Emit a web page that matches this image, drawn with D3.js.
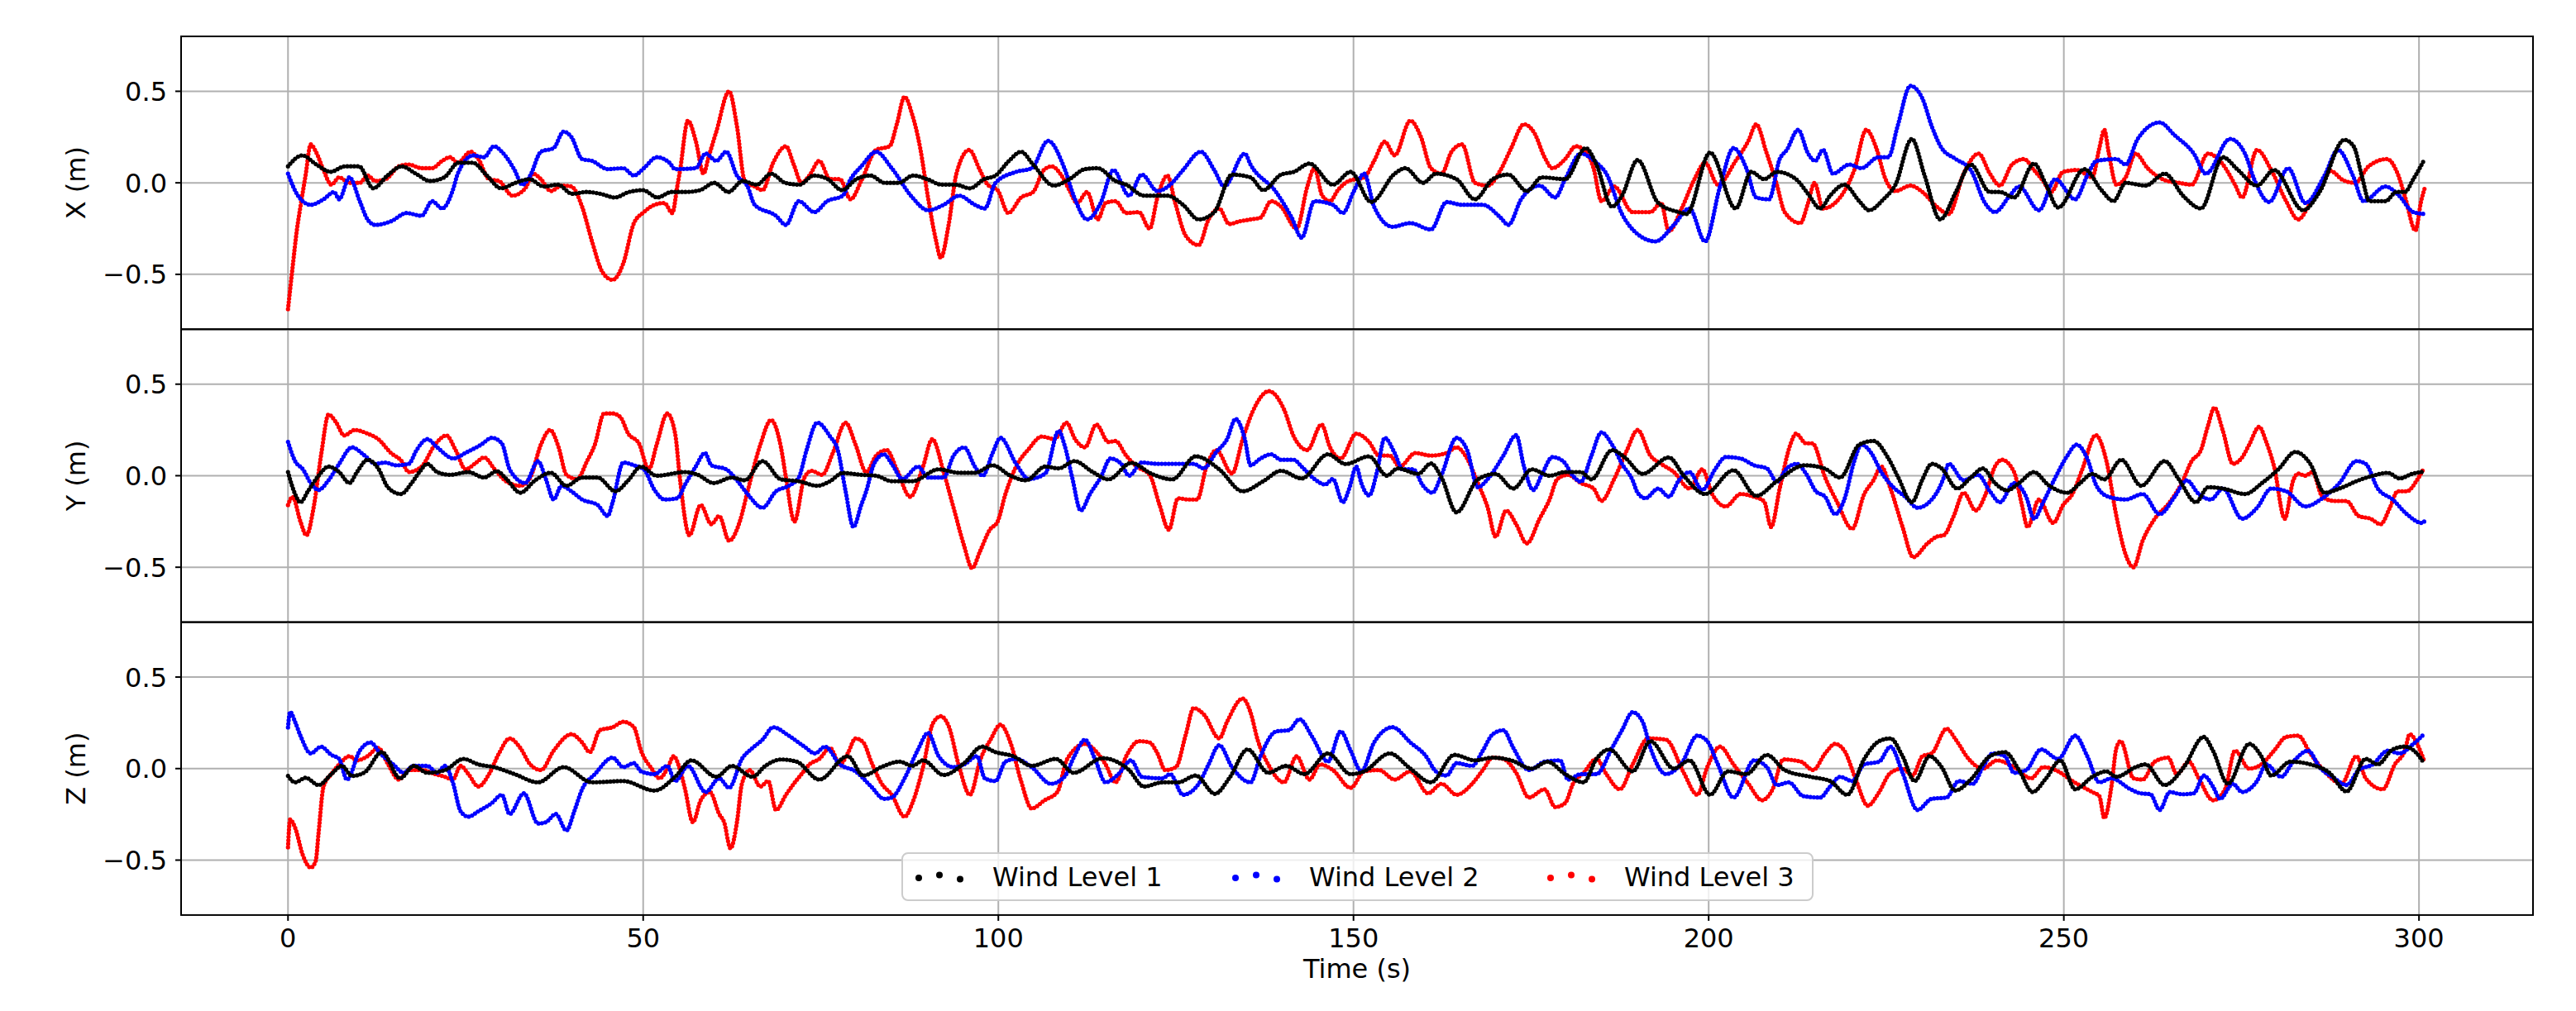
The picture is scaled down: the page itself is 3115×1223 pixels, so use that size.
<!DOCTYPE html>
<html><head><meta charset="utf-8">
<script src="https://cdn.jsdelivr.net/npm/d3@7"></script>
<style>body{margin:0;background:#fff} text{font-family:"DejaVu Sans",sans-serif;fill:#000}</style>
</head><body>
<svg id="chart" width="3115" height="1223"></svg>
<script>
const timeTicks=[0,50,100,150,200,250,300];
const valueTicks=[-0.5,0,0.5];
const panelLabels=["X (m)","Y (m)","Z (m)"];
const seriesNames=["Wind Level 1","Wind Level 2","Wind Level 3"];
const seriesColors=["#000000","#0000ff","#ff0000"];

// [time (s), displacement (m)]
const xL1=[[0,0.09],[2,0.15],[4,0.1],[6,0.06],[8,0.09],[10,0.09],[12,-0.03],[14,0.04],[16,0.09],[18,0.05],[20,0.01],[22,0.03],[24,0.11],[26,0.11],[28,0.04],[30,-0.03],[32,0.0],[34,0.02],[36,-0.02],[38,-0.01],[40,-0.06],[42,-0.05],[44,-0.06],[46,-0.08],[48,-0.05],[50,-0.04],[52,-0.08],[54,-0.05],[56,-0.05],[58,-0.04],[60,0.0],[62,-0.05],[64,0.01],[66,-0.01],[68,0.05],[70,0.0],[72,-0.01],[74,0.04],[76,0.02],[78,-0.04],[80,0.02],[82,0.04],[84,0.0],[86,0.0],[88,0.04],[90,0.02],[92,-0.01],[94,-0.01],[96,-0.03],[98,0.02],[99.6,0.04],[101.5,0.12],[103.2,0.17],[104.9,0.1],[107.8,-0.015],[110,0.02],[112.2,0.075],[114,0.08],[116.5,0.01],[118,-0.01],[120.5,-0.07],[123.8,-0.07],[126,-0.12],[128.2,-0.2],[130.4,-0.16],[132.9,0.045],[135.5,0.03],[137.3,-0.04],[139.8,0.045],[141.6,0.06],[143.8,0.105],[147.1,-0.01],[149.6,0.06],[152.5,-0.105],[155.8,0.05],[157.3,0.08],[159.8,0.0],[161.6,0.05],[164.5,0.02],[167.1,-0.09],[169.6,0.02],[171.8,0.045],[174.4,-0.045],[176.5,0.03],[179.8,0.02],[182.7,0.19],[184.2,0.1],[186.4,-0.13],[187.8,-0.07],[190,0.125],[192.9,-0.11],[195.8,-0.16],[196.9,-0.17],[200.2,0.165],[203.8,-0.14],[206,0.06],[207.8,0.02],[209.6,0.06],[212.3,0.02],[214,-0.06],[215.7,-0.14],[217.1,-0.07],[219.1,-0.01],[221.2,-0.1],[222.6,-0.15],[224.6,-0.09],[226.3,-0.01],[228.6,0.24],[230.4,0.04],[232.6,-0.2],[234.8,-0.05],[236.9,0.1],[239.6,-0.05],[241,-0.05],[243,-0.08],[245.8,0.105],[247.5,-0.01],[249.2,-0.135],[252.9,0.075],[255.3,-0.04],[257,-0.1],[258.7,0.0],[261.5,-0.015],[264.2,0.05],[266.9,-0.075],[269.3,-0.14],[272.4,0.14],[274.4,0.075],[277.2,-0.015],[279.6,0.07],[283.7,-0.15],[286,-0.05],[289.5,0.235],[290.8,0.2],[292,0.03],[293,-0.1],[295.3,-0.1],[296.8,-0.05],[298,-0.05],[299.2,0.02],[300.8,0.13]];
const xL2=[[0,0.05],[1.4,-0.07],[3.2,-0.12],[5.0,-0.09],[6.5,-0.05],[7.2,-0.09],[8.65,0.03],[10.1,-0.1],[11.2,-0.2],[12.3,-0.23],[14.5,-0.21],[16.7,-0.165],[18.8,-0.18],[20.3,-0.1],[21.7,-0.14],[23.2,-0.04],[23.9,0.05],[26.1,0.15],[27.6,0.14],[29.0,0.2],[30.1,0.17],[31.9,0.07],[33.0,-0.01],[34.1,0.04],[35.6,0.17],[37.4,0.19],[38.8,0.28],[39.9,0.25],[41.4,0.13],[42.8,0.12],[45.0,0.075],[47.2,0.08],[48.7,0.04],[50.1,0.08],[51.9,0.14],[53.7,0.11],[54.5,0.075],[57.4,0.08],[58.8,0.16],[60.3,0.12],[61.7,0.17],[63.2,0.04],[64.7,-0.02],[65.7,-0.12],[68.7,-0.18],[70.1,-0.23],[71.9,-0.1],[74.1,-0.16],[75.9,-0.1],[78.1,-0.07],[79.2,0.02],[80.7,0.09],[82.8,0.17],[85.0,0.08],[87.9,-0.08],[90.1,-0.15],[92.3,-0.12],[94.5,-0.07],[96.7,-0.12],[98.1,-0.14],[99.6,0.0],[102.5,0.06],[104.7,0.08],[107.0,0.23],[109.3,0.08],[110.7,-0.08],[112.5,-0.2],[114.4,-0.11],[116.2,0.07],[118.4,-0.07],[120.2,0.045],[122.4,-0.045],[124.2,-0.01],[126.0,0.07],[128.5,0.17],[130.4,0.07],[131.8,-0.02],[134.7,0.16],[135.5,0.1],[139.1,-0.05],[141.3,-0.19],[142.7,-0.3],[144.5,-0.1],[147.1,-0.12],[148.5,-0.165],[150.0,-0.05],[151.5,0.05],[152.9,-0.13],[155.5,-0.24],[158.0,-0.22],[160.9,-0.255],[163.1,-0.105],[165.3,-0.12],[168.2,-0.12],[170.7,-0.19],[171.8,-0.23],[173.6,-0.09],[176.2,-0.015],[178.4,-0.08],[179.8,0.02],[182.0,0.16],[184.2,0.11],[185.6,0.05],[187.8,-0.17],[190.0,-0.28],[192.5,-0.32],[195.1,-0.23],[197.3,-0.14],[199.5,-0.32],[201.6,-0.02],[203.5,0.19],[205.3,0.08],[206.7,-0.08],[208.5,-0.09],[210.0,0.13],[211.0,0.18],[212.6,0.29],[214.0,0.16],[215.0,0.12],[216.1,0.18],[217.5,0.05],[219.8,0.1],[221.5,0.08],[223.9,0.14],[225.3,0.14],[226.6,0.31],[228.4,0.53],[230.1,0.46],[231.4,0.31],[232.8,0.19],[234.8,0.13],[236.9,0.07],[238.9,-0.11],[240.3,-0.16],[242.4,-0.07],[243.7,-0.02],[246.5,-0.15],[248.8,0.02],[251.6,-0.09],[253.3,0.04],[254.6,0.12],[257.4,0.13],[258.7,0.1],[260.4,0.24],[263.5,0.33],[265.6,0.26],[268.3,0.16],[270.0,0.05],[273.4,0.24],[275.5,0.16],[276.8,0.02],[278.9,-0.105],[281.6,0.08],[284.0,-0.11],[286.7,0.04],[288.6,0.18],[290.7,0.04],[292.2,-0.1],[295.3,-0.02],[297.2,-0.07],[299.2,-0.16],[300.8,-0.17]];
const xL3=[[0,-0.69],[0.65,-0.46],[1.24,-0.26],[1.75,-0.13],[2.47,0.04],[3.2,0.21],[3.93,0.17],[5.0,0.07],[6.1,-0.01],[7.2,0.03],[8.65,0.0],[10.1,0.0],[11.2,0.04],[12.3,0.01],[13.75,0.02],[15.6,0.09],[17.0,0.1],[18.8,0.08],[20.3,0.08],[21.7,0.12],[22.8,0.14],[23.9,0.11],[25.7,0.17],[26.8,0.13],[28.3,0.02],[29.7,0.01],[31.6,-0.07],[33.4,-0.03],[34.5,0.05],[35.6,0.02],[37.0,-0.045],[38.5,-0.015],[39.9,-0.02],[41.4,-0.13],[42.8,-0.32],[44.3,-0.49],[45.7,-0.53],[47.2,-0.44],[48.7,-0.22],[50.1,-0.16],[51.6,-0.12],[53.0,-0.11],[54.1,-0.165],[54.8,-0.02],[55.2,0.07],[56.3,0.34],[57.4,0.23],[58.5,0.05],[59.2,0.14],[60.3,0.28],[62.1,0.5],[63.2,0.31],[64.3,0.01],[65.7,-0.02],[66.8,-0.04],[68.3,0.11],[70.1,0.2],[71.2,0.1],[72.3,0.0],[73.4,0.04],[74.8,0.12],[76.3,0.02],[77.7,0.02],[79.2,-0.09],[80.7,0.01],[82.8,0.18],[84.7,0.2],[85.7,0.32],[86.8,0.47],[87.9,0.37],[89.0,0.19],[90.1,-0.08],[91.2,-0.31],[91.9,-0.41],[93.0,-0.23],[94.1,0.05],[95.9,0.18],[97.4,0.07],[98.5,-0.01],[99.9,-0.04],[101.4,-0.165],[103.2,-0.08],[104.9,-0.05],[106.4,0.07],[107.5,0.09],[108.9,0.04],[110.0,-0.04],[111.1,-0.11],[112.5,-0.05],[114.0,-0.2],[115.1,-0.11],[116.5,-0.1],[118.0,-0.165],[119.8,-0.16],[121.3,-0.25],[122.4,-0.08],[123.8,0.04],[124.9,-0.11],[126.4,-0.29],[128.2,-0.34],[129.6,-0.2],[131.1,-0.14],[132.5,-0.225],[134.0,-0.21],[135.5,-0.2],[136.9,-0.19],[138.4,-0.1],[139.8,-0.13],[142.0,-0.25],[143.5,-0.02],[144.5,0.08],[145.6,-0.07],[146.7,-0.1],[147.8,-0.04],[149.3,0.01],[151.5,0.03],[152.9,0.12],[154.4,0.225],[155.8,0.15],[158.0,0.34],[159.5,0.25],[160.9,0.08],[162.4,0.05],[163.8,0.17],[165.3,0.21],[167.1,0.0],[168.9,-0.015],[170.7,0.07],[172.2,0.19],[174.0,0.32],[175.5,0.27],[176.9,0.14],[178.0,0.08],[179.8,0.13],[181.3,0.2],[182.7,0.17],[183.8,0.08],[184.9,-0.1],[186.7,-0.02],[189.3,-0.16],[191.8,-0.16],[193.3,-0.11],[194.4,-0.265],[196.2,-0.14],[198.0,0.02],[199.5,0.11],[201.3,-0.01],[203.8,0.12],[205.6,0.23],[206.7,0.32],[208.1,0.17],[209.6,-0.01],[210.7,-0.16],[212.9,-0.22],[214.0,-0.11],[214.9,0.0],[216.1,-0.14],[218.5,-0.08],[220.5,0.07],[222.2,0.29],[223.6,0.19],[224.9,0.02],[226.3,-0.045],[228.4,-0.015],[230.1,-0.05],[232.1,-0.13],[233.8,-0.17],[235.9,0.05],[238.0,0.16],[239.6,0.05],[241.0,-0.015],[242.7,0.1],[244.4,0.13],[245.8,0.07],[247.1,0.01],[248.2,-0.05],[249.9,0.06],[251.9,0.07],[254.0,0.03],[255.0,0.19],[255.7,0.29],[256.3,0.17],[257.4,-0.01],[258.7,0.03],[260.1,0.16],[261.8,0.08],[264.2,0.015],[266.2,0.0],[268.0,-0.01],[270.3,0.16],[272.4,0.1],[274.1,-0.01],[275.1,-0.08],[277.2,0.18],[279.2,0.07],[281.3,-0.1],[283.0,-0.2],[284.7,-0.11],[286.7,0.02],[287.5,0.066],[289.3,0.015],[291.0,0.0],[292.9,0.09],[295.5,0.13],[297.0,0.05],[298.1,-0.085],[299.5,-0.26],[300.3,-0.1],[300.8,-0.03]];

const yL1=[[0,0.02],[1.0,-0.1],[1.75,-0.145],[2.8,-0.085],[4.3,0.0],[5.7,0.05],[7.2,0.02],[8.65,-0.04],[9.7,0.02],[11.2,0.087],[12.7,0.04],[14.1,-0.065],[15.9,-0.1],[17.4,-0.04],[18.5,0.02],[19.6,0.065],[21.0,0.02],[22.8,0.005],[25.4,0.02],[27.6,-0.01],[29.4,0.025],[30.8,-0.02],[32.7,-0.093],[34.8,-0.025],[37.0,0.016],[39.2,-0.055],[41.4,-0.01],[43.6,-0.01],[46.1,-0.085],[47.9,-0.025],[49.7,0.05],[51.9,0.0],[55.9,0.02],[57.7,0.005],[59.9,-0.04],[62.5,-0.01],[64.3,-0.025],[66.8,0.08],[69.4,-0.02],[71.9,-0.03],[74.5,-0.055],[76.3,-0.03],[78.1,0.015],[80.7,0.005],[82.8,0.0],[85.0,-0.03],[87.9,-0.03],[91.6,0.035],[94.5,0.016],[96.7,0.016],[99.2,0.057],[101.7,0.0],[103.9,-0.025],[106.6,0.05],[108.5,0.04],[110.7,0.08],[113.3,0.02],[115.5,-0.02],[118.7,0.07],[121.6,0.01],[124.5,-0.02],[127.8,0.106],[131.1,0.035],[134.4,-0.085],[137.3,-0.03],[139.8,0.027],[142.7,-0.015],[146.4,0.117],[148.9,0.064],[152.2,0.106],[154.7,0.0],[156.2,0.04],[159.1,0.01],[160.9,0.067],[162.4,-0.01],[164.5,-0.2],[167.5,-0.02],[170.0,0.01],[172.5,-0.07],[175.1,0.035],[177.6,0.0],[179.8,0.02],[182.0,0.02],[183.5,-0.02],[186.4,0.14],[188.2,0.1],[190.7,0.01],[194.4,0.1],[196.5,0.0],[199.5,-0.1],[203.5,0.03],[206.7,-0.11],[209.6,-0.03],[213.5,0.057],[216.3,0.04],[218.5,-0.01],[221.2,0.17],[223.2,0.19],[225.3,0.095],[226.7,-0.01],[228.6,-0.145],[230.1,-0.02],[231.4,0.065],[232.8,0.04],[235.0,-0.07],[236.9,-0.01],[238.6,0.04],[240.3,-0.04],[242.0,-0.08],[243.7,-0.04],[245.8,0.02],[247.8,-0.05],[250.5,-0.093],[252.3,-0.04],[254.0,0.01],[255.7,-0.02],[258.1,0.087],[260.9,-0.055],[264.2,0.08],[266.2,-0.02],[268.6,-0.145],[270.3,-0.063],[272.4,-0.07],[275.5,-0.1],[277.9,-0.04],[280.2,0.035],[282.6,0.13],[284.7,0.065],[286.7,-0.093],[288.8,-0.07],[291.5,-0.025],[293.5,0.0],[295.6,0.016],[297.3,-0.015],[299.0,0.01],[300.7,0.022]];
const yL2=[[0,0.185],[1.0,0.08],[2.1,0.035],[3.2,-0.04],[4.3,-0.078],[5.7,-0.025],[7.2,0.065],[9.0,0.155],[10.8,0.11],[12.3,0.065],[13.7,0.072],[15.2,0.057],[17.0,0.065],[18.1,0.14],[19.6,0.2],[21.0,0.155],[23.3,0.094],[25.0,0.125],[27.2,0.17],[28.7,0.207],[30.1,0.177],[31.2,0.035],[33.4,-0.04],[35.2,0.08],[36.3,-0.018],[37.4,-0.13],[38.5,-0.055],[39.9,-0.085],[41.4,-0.13],[43.6,-0.16],[45.0,-0.22],[45.7,-0.145],[47.2,0.072],[48.7,0.057],[50.1,0.035],[51.6,-0.078],[53.0,-0.13],[54.8,-0.123],[55.9,-0.048],[57.4,0.05],[58.7,0.124],[59.6,0.057],[61.7,0.035],[63.2,-0.025],[64.7,-0.1],[66.8,-0.175],[68.7,-0.085],[70.5,-0.055],[71.9,-0.01],[73.0,0.14],[74.5,0.29],[76.3,0.215],[77.4,0.14],[78.5,-0.085],[79.6,-0.28],[80.7,-0.16],[81.4,-0.085],[82.5,0.065],[83.9,0.117],[85.0,0.065],[86.5,-0.018],[88.7,0.05],[90.1,-0.01],[92.3,-0.01],[93.7,0.11],[95.2,0.155],[96.7,0.05],[97.8,0.0],[99.2,0.124],[100.3,0.207],[102.5,0.065],[104.3,-0.018],[106.6,0.012],[108.5,0.245],[109.3,0.17],[110.4,-0.01],[111.6,-0.19],[112.9,-0.1],[114.4,-0.01],[115.8,0.094],[117.3,0.065],[118.4,0.0],[120.2,0.072],[122.4,0.065],[125.3,0.065],[127.5,0.065],[128.9,0.04],[130.7,0.13],[132.2,0.2],[133.4,0.31],[134.7,0.2],[135.5,0.057],[136.9,0.094],[138.4,0.117],[139.8,0.087],[141.6,0.087],[142.7,0.05],[144.5,-0.018],[146.0,-0.048],[147.1,-0.018],[148.5,-0.145],[149.4,-0.07],[150.4,0.05],[151.1,-0.04],[152.2,-0.108],[153.3,0.02],[154.4,0.207],[155.8,0.124],[156.9,0.035],[158.4,0.035],[159.8,-0.055],[161.1,-0.093],[162.4,0.005],[164.5,0.207],[166.0,0.14],[167.5,-0.063],[168.9,-0.018],[171.1,0.11],[172.9,0.222],[174.0,0.05],[175.3,-0.078],[176.5,0.005],[178.0,0.102],[179.5,0.08],[180.9,0.0],[182.0,-0.033],[183.5,0.11],[184.9,0.237],[186.4,0.17],[187.8,0.065],[189.3,-0.025],[190.0,-0.093],[191.1,-0.123],[192.9,-0.07],[194.4,-0.115],[195.8,-0.025],[197.3,0.02],[199.1,-0.078],[200.9,0.035],[202.4,0.102],[204.5,0.094],[206.4,0.057],[208.2,0.04],[209.6,-0.033],[211.0,0.04],[212.4,0.065],[213.7,0.012],[215.1,-0.085],[216.4,-0.115],[217.8,-0.21],[219.1,-0.13],[220.5,0.08],[221.5,0.17],[222.9,0.124],[224.3,0.02],[226.0,-0.063],[227.7,-0.115],[229.4,-0.175],[232.1,-0.093],[233.1,-0.01],[233.8,0.065],[235.9,-0.025],[237.9,0.005],[239.6,-0.085],[241.0,-0.145],[243.0,-0.04],[244.7,-0.115],[245.8,-0.235],[247.1,-0.145],[248.8,-0.01],[250.5,0.11],[251.8,0.17],[253.3,0.094],[254.6,-0.055],[256.3,-0.115],[258.7,-0.13],[261.1,-0.1],[263.5,-0.21],[265.6,-0.115],[267.3,-0.025],[269.0,-0.1],[270.7,-0.13],[272.4,-0.07],[275.1,-0.235],[277.2,-0.175],[279.2,-0.07],[281.3,-0.085],[284.0,-0.168],[286.4,-0.123],[288.8,-0.04],[291.2,0.08],[292.5,0.065],[294.2,-0.07],[296.3,-0.13],[298.3,-0.21],[300.4,-0.258],[300.9,-0.243]];
const yL3=[[0,-0.16],[0.65,-0.115],[1.75,-0.25],[2.6,-0.325],[3.6,-0.175],[4.7,0.124],[5.7,0.334],[6.8,0.29],[7.9,0.22],[9.4,0.25],[11.2,0.23],[12.7,0.2],[14.5,0.124],[16.0,0.08],[17.0,0.02],[18.8,0.05],[20.7,0.17],[22.3,0.22],[23.6,0.14],[25.0,0.035],[26.5,0.072],[27.6,0.1],[29.1,0.035],[30.8,-0.033],[32.7,-0.055],[34.1,-0.01],[35.6,0.17],[36.9,0.25],[38.1,0.155],[39.2,0.005],[40.7,-0.018],[42.1,0.08],[43.2,0.17],[44.5,0.34],[45.7,0.34],[46.8,0.32],[47.9,0.23],[49.4,0.177],[50.8,0.035],[51.9,0.17],[53.4,0.34],[54.5,0.23],[55.2,-0.025],[56.5,-0.325],[58.1,-0.16],[59.6,-0.265],[60.7,-0.22],[62.1,-0.355],[63.6,-0.25],[64.7,-0.085],[66.5,0.17],[68.0,0.304],[69.4,0.155],[70.1,-0.01],[71.3,-0.25],[72.7,-0.01],[73.7,0.027],[75.2,0.005],[76.7,0.124],[78.5,0.29],[79.9,0.17],[81.4,0.02],[82.8,0.11],[84.3,0.14],[85.7,0.035],[87.6,-0.115],[89.4,0.05],[90.7,0.2],[92.3,0.02],[93.7,-0.175],[95.2,-0.385],[96.3,-0.505],[97.4,-0.415],[98.8,-0.295],[99.9,-0.25],[101.0,-0.1],[102.5,0.05],[104.3,0.147],[106.1,0.214],[107.9,0.2],[109.6,0.29],[110.8,0.2],[112.2,0.155],[113.8,0.28],[115.5,0.184],[116.5,0.19],[118.0,0.11],[119.5,0.05],[121.3,0.005],[122.7,-0.16],[124.0,-0.295],[125.3,-0.123],[126.7,-0.13],[128.0,-0.13],[129.3,0.05],[130.7,0.14],[132.9,0.012],[134.4,0.2],[135.8,0.35],[138.1,0.462],[140.2,0.364],[141.6,0.214],[143.5,0.14],[145.5,0.28],[146.7,0.155],[148.2,0.094],[150.4,0.23],[152.2,0.184],[153.6,0.11],[155.1,0.11],[156.5,0.05],[158.7,0.124],[160.9,0.11],[163.1,0.124],[164.5,0.155],[166.0,0.094],[167.5,-0.04],[168.9,-0.175],[170.0,-0.333],[171.5,-0.19],[172.9,-0.265],[174.4,-0.37],[176.2,-0.235],[177.6,-0.13],[178.7,-0.018],[180.2,0.005],[182.0,-0.04],[183.8,-0.07],[184.9,-0.138],[186.7,-0.018],[188.5,0.14],[190.0,0.25],[191.8,0.11],[193.3,0.065],[195.1,0.02],[197.3,-0.07],[199.1,0.035],[200.5,-0.1],[202.4,-0.168],[204.5,-0.1],[206.4,-0.115],[207.8,-0.14],[208.8,-0.28],[210.0,-0.07],[211.5,0.17],[212.3,0.23],[213.7,0.177],[214.6,0.177],[216.4,-0.01],[218.1,-0.145],[220.2,-0.29],[221.9,-0.1],[223.2,-0.025],[224.3,0.05],[225.6,-0.07],[227.3,-0.28],[228.8,-0.445],[230.8,-0.37],[232.1,-0.333],[233.1,-0.325],[234.5,-0.22],[235.9,-0.093],[237.6,-0.19],[239.0,-0.1],[240.3,0.05],[241.3,0.087],[243.0,0.02],[244.1,-0.16],[244.9,-0.28],[246.5,-0.13],[248.5,-0.258],[249.9,-0.16],[251.2,-0.1],[252.6,0.035],[254.5,0.222],[256.0,0.08],[257.4,-0.22],[258.7,-0.43],[259.8,-0.5],[261.1,-0.355],[262.8,-0.235],[264.9,-0.145],[266.6,-0.04],[268.0,0.08],[269.3,0.14],[270.3,0.274],[271.2,0.372],[272.4,0.244],[273.8,0.065],[275.1,0.1],[276.1,0.17],[277.5,0.267],[278.5,0.184],[279.6,0.05],[281.1,-0.235],[282.3,-0.025],[283.0,0.012],[284.0,0.0],[285.0,0.02],[286.4,-0.115],[288.1,-0.138],[289.8,-0.138],[291.5,-0.22],[293.2,-0.235],[294.6,-0.265],[295.9,-0.175],[297.0,-0.085],[298.3,-0.085],[299.7,-0.025],[300.7,0.042]];

const zL1=[[0,-0.04],[1.0,-0.075],[2.5,-0.05],[4.3,-0.09],[6.1,-0.03],[7.6,0.015],[9.0,-0.04],[10.8,-0.02],[13.2,0.09],[15.8,-0.053],[17.7,0.015],[19.6,-0.023],[22.1,-0.008],[24.7,0.053],[26.8,0.023],[29.0,0.008],[31.9,-0.03],[35.2,-0.075],[38.8,0.008],[42.8,-0.075],[47.2,-0.068],[51.6,-0.12],[54.5,-0.045],[56.8,0.045],[60.3,-0.045],[62.5,0.015],[65.4,-0.045],[67.2,0.015],[69.4,0.05],[71.6,0.038],[74.8,-0.06],[78.8,0.068],[81.0,-0.038],[83.6,0.01],[86.1,0.038],[87.9,0.015],[89.4,0.045],[92.3,-0.035],[95.2,0.03],[97.7,0.12],[99.6,0.09],[102.1,0.068],[104.7,0.015],[108.1,0.053],[110.6,-0.023],[114.7,0.057],[118.4,-0.008],[120.5,-0.098],[123.1,-0.075],[125.3,-0.075],[127.8,-0.038],[130.5,-0.138],[132.5,-0.053],[135.1,0.105],[138.0,-0.023],[140.5,0.015],[143.1,-0.03],[146.4,0.083],[149.6,-0.03],[151.5,-0.015],[155.1,0.083],[158.0,0.0],[160.9,-0.075],[164.2,0.075],[167.1,0.045],[169.6,0.06],[172.2,0.045],[175.1,0.0],[177.3,0.038],[179.8,-0.03],[182.4,-0.075],[184.2,0.053],[186.0,0.105],[189.3,-0.015],[191.8,0.15],[195.1,0.0],[197.3,0.045],[200.2,-0.143],[202.7,-0.015],[205.3,-0.03],[208.2,0.075],[210.7,-0.008],[214.4,-0.045],[217.1,-0.068],[219.5,-0.143],[221.9,0.053],[224.0,0.15],[225.6,0.165],[227.3,0.068],[229.0,-0.068],[231.1,0.068],[232.8,0.008],[234.7,-0.12],[236.9,-0.06],[239.6,0.068],[241.7,0.09],[243.7,-0.008],[245.6,-0.128],[247.5,-0.053],[249.5,0.045],[251.6,-0.113],[254.0,-0.045],[256.0,-0.015],[257.4,-0.045],[260.1,0.008],[261.5,0.023],[264.2,-0.09],[266.9,0.008],[269.7,0.173],[271.0,0.098],[273.1,-0.083],[276.1,0.135],[277.8,0.068],[279.2,-0.038],[281.9,0.038],[284.7,0.023],[287.4,-0.023],[289.8,-0.125],[292.5,0.053],[294.2,0.023],[296.3,0.105],[298.0,0.12],[299.7,0.083],[300.7,0.03]];
const zL2=[[0,0.225],[0.3,0.31],[1.0,0.255],[1.75,0.18],[3.2,0.083],[4.65,0.12],[6.1,0.075],[7.2,0.053],[8.3,-0.06],[10.1,0.098],[11.6,0.143],[13.0,0.083],[14.8,0.023],[16.3,-0.023],[17.7,0.015],[19.6,0.015],[21.0,-0.023],[22.1,0.015],[23.2,-0.075],[24.3,-0.233],[25.4,-0.263],[26.8,-0.233],[28.7,-0.188],[30.1,-0.143],[31.2,-0.248],[33.2,-0.135],[35.2,-0.3],[36.3,-0.293],[37.7,-0.248],[39.2,-0.338],[40.3,-0.233],[41.4,-0.113],[43.2,-0.03],[45.7,0.06],[47.2,0.008],[48.7,0.03],[49.7,-0.015],[51.6,-0.03],[53.4,0.015],[54.5,-0.068],[56.3,0.015],[58.8,-0.128],[60.7,-0.053],[62.1,-0.105],[63.9,0.053],[65.4,0.113],[66.8,0.158],[68.3,0.226],[70.5,0.18],[72.7,0.12],[74.2,0.083],[75.6,0.12],[77.7,0.023],[79.9,-0.015],[82.1,-0.098],[83.9,-0.165],[85.0,-0.158],[86.8,-0.053],[88.7,0.105],[90.1,0.195],[91.6,0.068],[93.7,0.008],[95.2,0.023],[97.0,0.068],[98.1,-0.053],[99.6,-0.068],[101.0,0.038],[102.5,0.053],[104.7,0.008],[107.4,-0.083],[109.3,-0.045],[110.7,0.068],[112.2,0.158],[113.6,0.053],[115.1,-0.075],[116.9,-0.03],[118.7,0.045],[120.2,-0.045],[123.1,-0.053],[124.2,-0.03],[126.0,-0.143],[128.2,-0.083],[129.6,0.023],[131.1,0.128],[132.9,0.008],[135.5,-0.075],[136.9,0.068],[139.1,0.203],[140.9,0.21],[142.4,0.27],[144.2,0.173],[146.4,0.038],[148.2,0.203],[149.6,0.098],[151.1,-0.015],[152.9,0.143],[155.5,0.226],[158.0,0.143],[160.2,0.068],[161.6,-0.015],[163.1,-0.038],[164.5,0.03],[166.7,0.015],[168.2,0.098],[169.6,0.188],[171.1,0.21],[172.5,0.113],[174.7,-0.008],[176.9,0.038],[179.1,0.045],[180.2,-0.06],[182.0,-0.03],[184.2,-0.03],[186.4,0.113],[187.8,0.21],[189.3,0.308],[190.7,0.256],[191.8,0.113],[194.0,-0.03],[196.2,0.03],[198.4,0.18],[199.8,0.15],[201.3,0.023],[203.5,-0.158],[206.4,0.045],[208.2,0.008],[209.6,-0.09],[211.3,-0.075],[213.3,-0.15],[215.7,-0.158],[217.1,-0.098],[218.5,-0.045],[220.2,-0.068],[221.9,0.023],[224.0,0.038],[225.6,0.12],[227.3,-0.023],[229.4,-0.226],[231.4,-0.165],[233.5,-0.158],[235.2,-0.068],[237.2,-0.083],[238.6,0.008],[240.0,0.083],[241.7,0.068],[243.0,-0.023],[244.7,-0.008],[246.8,0.105],[249.2,0.053],[251.6,0.18],[253.3,0.068],[255.0,-0.075],[256.7,-0.053],[259.4,-0.113],[260.8,-0.135],[262.2,-0.14],[263.5,-0.226],[264.9,-0.128],[266.6,-0.14],[268.3,-0.135],[269.7,-0.038],[271.0,-0.098],[272.0,-0.165],[273.8,-0.083],[275.1,-0.128],[277.2,-0.068],[278.5,0.023],[280.6,-0.045],[282.3,0.038],[284.4,0.098],[286.0,0.008],[288.1,-0.053],[289.8,-0.09],[291.5,-0.008],[293.5,0.023],[295.6,0.098],[297.3,0.083],[299.0,0.128],[300.7,0.188]];
const zL3=[[0,-0.43],[0.3,-0.278],[1.0,-0.323],[2.1,-0.474],[3.2,-0.541],[3.9,-0.504],[4.3,-0.353],[5.0,-0.098],[6.1,-0.03],[7.2,0.023],[8.65,0.068],[9.7,0.045],[11.2,0.068],[12.7,0.113],[14.1,0.023],[15.6,-0.06],[17.0,-0.008],[18.8,-0.008],[20.7,-0.03],[22.1,-0.045],[23.2,-0.06],[24.3,0.015],[25.4,-0.03],[26.8,-0.098],[28.3,-0.03],[29.7,0.083],[31.2,0.165],[32.7,0.113],[34.1,0.023],[35.6,-0.008],[37.4,0.098],[39.9,0.188],[41.4,0.143],[42.5,0.09],[43.9,0.21],[45.7,0.226],[47.2,0.256],[48.7,0.226],[49.7,0.098],[51.2,0.0],[52.3,-0.053],[53.4,0.0],[54.3,0.068],[55.2,-0.008],[55.9,-0.113],[57.0,-0.293],[58.1,-0.173],[59.4,-0.128],[60.7,-0.248],[61.4,-0.293],[62.3,-0.436],[63.2,-0.293],[63.9,-0.083],[65.0,-0.008],[66.5,-0.098],[67.6,-0.068],[68.7,-0.226],[70.1,-0.143],[71.2,-0.083],[72.3,-0.03],[73.4,0.023],[74.8,0.053],[76.3,0.113],[77.7,0.023],[78.8,0.083],[79.9,0.165],[81.0,0.143],[82.1,0.038],[83.6,-0.083],[85.0,-0.143],[86.8,-0.263],[87.9,-0.188],[89.4,0.008],[90.8,0.248],[91.9,0.286],[93.0,0.233],[94.5,0.008],[96.0,-0.143],[97.5,0.053],[98.9,0.158],[100.3,0.24],[101.7,0.143],[103.2,-0.068],[104.7,-0.218],[106.5,-0.173],[108.3,-0.128],[109.7,0.053],[112.2,0.135],[114.0,0.083],[115.1,0.023],[116.5,-0.075],[118.0,0.068],[119.8,0.15],[121.3,0.143],[122.4,0.083],[123.5,-0.008],[125.0,0.008],[126.4,0.188],[127.5,0.331],[129.0,0.293],[131.1,0.165],[132.2,0.256],[134.4,0.383],[135.5,0.308],[136.5,0.158],[138.0,0.023],[140.2,-0.075],[142.0,0.068],[143.8,-0.06],[145.3,0.023],[147.1,-0.008],[149.6,-0.105],[151.5,-0.015],[153.6,-0.008],[155.8,-0.06],[158.0,-0.015],[160.5,-0.135],[162.4,-0.083],[164.5,-0.143],[166.7,-0.083],[168.2,-0.008],[169.6,0.06],[171.1,0.053],[172.9,-0.023],[174.7,-0.158],[176.9,-0.113],[178.4,-0.21],[179.8,-0.188],[180.9,-0.083],[182.4,-0.023],[184.2,0.053],[185.6,-0.03],[187.5,-0.113],[189.3,0.023],[191.5,0.165],[194.0,0.158],[196.5,-0.023],[198.4,-0.143],[199.8,0.008],[201.6,0.12],[203.5,0.023],[205.6,-0.083],[207.5,-0.173],[209.0,-0.113],[210.5,0.05],[213.0,0.038],[214.7,-0.008],[216.4,0.083],[217.8,0.135],[219.1,0.098],[220.8,-0.068],[222.4,-0.203],[223.9,-0.135],[225.6,-0.023],[227.3,0.0],[228.7,-0.038],[230.1,0.068],[231.4,0.083],[233.5,0.218],[234.8,0.158],[236.6,0.053],[238.6,0.0],[240.6,0.045],[243.0,0.008],[245.4,-0.053],[247.1,0.008],[249.2,-0.015],[251.2,-0.068],[254.0,-0.128],[255.0,-0.15],[255.7,-0.27],[256.7,-0.098],[257.4,0.113],[258.0,0.15],[259.8,-0.053],[261.1,-0.06],[262.8,0.038],[264.7,0.06],[265.9,-0.03],[267.6,0.038],[269.0,-0.053],[271.0,-0.173],[272.7,-0.113],[274.1,0.098],[276.1,0.0],[277.8,0.023],[279.6,0.098],[281.3,0.173],[283.0,0.18],[284.7,0.083],[286.7,-0.015],[289.1,-0.083],[291.2,0.068],[292.5,-0.053],[294.9,-0.113],[296.6,0.023],[298.0,0.098],[298.7,0.188],[300.0,0.113],[300.7,0.045]];

const panels=[[xL1,xL2,xL3],[yL1,yL2,yL3],[zL1,zL2,zL3]];

const svg=d3.select("#chart");
const L=219,R=3063,T=44,PH=354.3,FS=32;
const x=d3.scaleLinear().domain([-15.05,316.05]).range([L,R]);
const fmt=v=>(v<0?"\u2212":"")+Math.abs(v).toFixed(1);

panels.forEach((series,i)=>{
  const top=T+PH*i, bot=T+PH*(i+1);
  const y=d3.scaleLinear().domain([-0.8,0.8]).range([bot,top]);
  const g=svg.append("g");
  svg.append("clipPath").attr("id","clip"+i).append("rect")
    .attr("x",L).attr("y",top).attr("width",R-L).attr("height",PH);
  g.selectAll(".vg").data(timeTicks).join("line")
    .attr("x1",d=>x(d)).attr("x2",d=>x(d)).attr("y1",top).attr("y2",bot)
    .attr("stroke","#b0b0b0").attr("stroke-width",2);
  g.selectAll(".hg").data(valueTicks).join("line")
    .attr("x1",L).attr("x2",R).attr("y1",d=>y(d)).attr("y2",d=>y(d))
    .attr("stroke","#b0b0b0").attr("stroke-width",2);
  const line=d3.line().x(d=>x(d[0])).y(d=>y(d[1])).curve(d3.curveMonotoneX);
  const dg=g.append("g").attr("clip-path","url(#clip"+i+")");
  [2,1,0].forEach(k=>{
    dg.append("path").attr("d",line(series[k])).attr("fill","none")
      .attr("stroke",seriesColors[k]).attr("stroke-width",5.2)
      .attr("stroke-linecap","round").attr("stroke-linejoin","round")
      .attr("stroke-dasharray","0 4.2");
  });
  g.append("rect").attr("x",L).attr("y",top).attr("width",R-L).attr("height",PH)
    .attr("fill","none").attr("stroke","#000").attr("stroke-width",2);
  g.selectAll(".yt").data(valueTicks).join("line")
    .attr("x1",L-7).attr("x2",L).attr("y1",d=>y(d)).attr("y2",d=>y(d))
    .attr("stroke","#000").attr("stroke-width",2);
  g.selectAll(".yl").data(valueTicks).join("text")
    .attr("x",202).attr("y",d=>y(d)+11.5).attr("text-anchor","end")
    .attr("font-size",FS).text(fmt);
  g.append("text").attr("transform",`translate(103,${(top+bot)/2}) rotate(-90)`)
    .attr("text-anchor","middle").attr("font-size",FS).text(panelLabels[i]);
  if(i===2){
    g.selectAll(".xt").data(timeTicks).join("line")
      .attr("x1",d=>x(d)).attr("x2",d=>x(d)).attr("y1",bot).attr("y2",bot+7)
      .attr("stroke","#000").attr("stroke-width",2);
    g.selectAll(".xl").data(timeTicks).join("text")
      .attr("x",d=>x(d)).attr("y",1146).attr("text-anchor","middle")
      .attr("font-size",FS).text(d=>d);
    g.append("text").attr("x",(L+R)/2).attr("y",1183).attr("text-anchor","middle")
      .attr("font-size",FS).text("Time (s)");
  }
});

// legend (lower center of the bottom panel)
const legendLeft=1091, legendRight=2192, legendTop=1032, legendH=57;
const entryStart=[1111,1494,1875];
const lg=svg.append("g");
lg.append("rect").attr("x",legendLeft).attr("y",legendTop).attr("width",legendRight-legendLeft)
  .attr("height",legendH).attr("rx",7)
  .attr("fill","#fff").attr("fill-opacity",0.8).attr("stroke","#cccccc").attr("stroke-width",2);
const dotDy=[2,-1.5,3.5];
seriesNames.forEach((nm,k)=>{
  [0,25,50].forEach((dx,j)=>{
    lg.append("circle").attr("cx",entryStart[k]+dx).attr("cy",1060+dotDy[j]).attr("r",4)
      .attr("fill",seriesColors[k]);
  });
  lg.append("text").attr("x",entryStart[k]+89).attr("y",1071.5).attr("font-size",FS).text(nm);
});
</script>
</body></html>
